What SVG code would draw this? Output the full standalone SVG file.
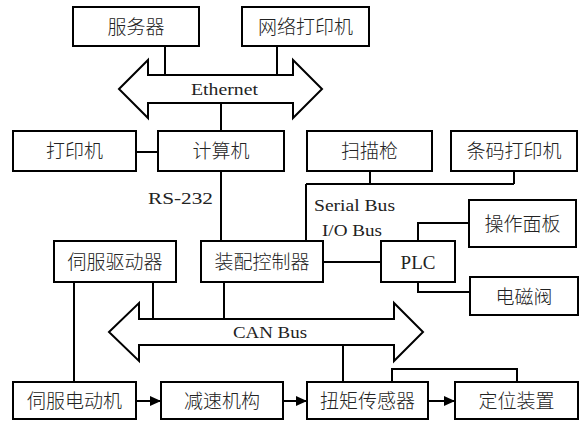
<svg xmlns="http://www.w3.org/2000/svg" width="585" height="421" viewBox="0 0 585 421">
<defs>
<marker id="ah" markerWidth="12" markerHeight="12" refX="11" refY="5" orient="auto" markerUnits="userSpaceOnUse">
<path d="M0,0 L11,5 L0,10 Z" fill="#000"/>
</marker>
<style>
rect.b{fill:#fff;stroke:#000;stroke-width:2}
text.cn{font-family:"Liberation Serif","Noto Sans CJK SC",serif;font-size:19px;font-weight:300;text-anchor:middle;dominant-baseline:central;fill:#222}
text.en{font-family:"Liberation Serif",serif;font-size:17px;fill:#222}
.ln{fill:none;stroke:#000;stroke-width:2}
.bus{fill:#fff;stroke:#000;stroke-width:2;stroke-linejoin:miter}
</style>
</defs>
<rect width="585" height="421" fill="#fff"/>
<g id="buses">
<path class="bus" d="M119,89 L148,60 L148,75 L293,75 L293,60 L322,89 L293,118 L293,103 L148,103 L148,118 Z"/>
<text class="en" x="224.5" y="89" text-anchor="middle" dominant-baseline="central" textLength="67" lengthAdjust="spacingAndGlyphs">Ethernet</text>
<path class="bus" d="M109,332 L139,303 L139,319 L394,319 L394,303 L423,332 L394,361 L394,345 L139,345 L139,361 Z"/>
<text class="en" x="270" y="332" text-anchor="middle" dominant-baseline="central" textLength="74" lengthAdjust="spacingAndGlyphs">CAN Bus</text>
</g>
<g id="connectors">
<path class="ln" d="M165,46 V75 M277,46 V75 M221,103 V131 M136,152 H158 M221,171 V241"/>
<path class="ln" d="M370,171 V184 M306,184 H514 M514,171 V184 M306,184 V241"/>
<path class="ln" d="M323,262 H381 M418,241 V223 H469 M418,282 V292 H470"/>
<path class="ln" d="M74,282 V382 M153,282 V319 M224,282 V319 M343,345 V382 M392,382 V369 H517 V382"/>
<path class="ln" d="M136,401 H161" marker-end="url(#ah)"/>
<path class="ln" d="M283,401 H307" marker-end="url(#ah)"/>
<path class="ln" d="M428,401 H455" marker-end="url(#ah)"/>
<text class="en" x="148" y="198" dominant-baseline="central" textLength="65" lengthAdjust="spacingAndGlyphs">RS-232</text>
<text class="en" x="314" y="205" dominant-baseline="central" textLength="81" lengthAdjust="spacingAndGlyphs">Serial Bus</text>
<text class="en" x="322" y="230" dominant-baseline="central" textLength="60" lengthAdjust="spacingAndGlyphs">I/O Bus</text>
</g>
<g id="n1"><rect class="b" x="73" y="7" width="126" height="39"/><text class="cn" x="136" y="27">服务器</text></g>
<g id="n2"><rect class="b" x="242" y="7" width="127" height="39"/><text class="cn" x="305.5" y="27">网络打印机</text></g>
<g id="n3"><rect class="b" x="13" y="131" width="123" height="40"/><text class="cn" x="74.5" y="151.5">打印机</text></g>
<g id="n4"><rect class="b" x="158" y="131" width="126" height="40"/><text class="cn" x="221" y="151.5">计算机</text></g>
<g id="n5"><rect class="b" x="307" y="131" width="125" height="40"/><text class="cn" x="369.5" y="151.5">扫描枪</text></g>
<g id="n6"><rect class="b" x="451" y="131" width="126" height="40"/><text class="cn" x="514" y="151.5">条码打印机</text></g>
<g id="n7"><rect class="b" x="54" y="241" width="122" height="41"/><text class="cn" x="115" y="262">伺服驱动器</text></g>
<g id="n8"><rect class="b" x="201" y="241" width="122" height="41"/><text class="cn" x="262" y="262">装配控制器</text></g>
<g id="n9"><rect class="b" x="381" y="241" width="74" height="41"/><text class="en" x="418" y="262" text-anchor="middle" dominant-baseline="central" style="font-size:19px">PLC</text></g>
<g id="n10"><rect class="b" x="469" y="200" width="107" height="47"/><text class="cn" x="522.5" y="224">操作面板</text></g>
<g id="n11"><rect class="b" x="470" y="277" width="108" height="38"/><text class="cn" x="524" y="297">电磁阀</text></g>
<g id="n12"><rect class="b" x="13" y="382" width="123" height="37"/><text class="cn" x="74.5" y="401.5">伺服电动机</text></g>
<g id="n13"><rect class="b" x="161" y="382" width="122" height="37"/><text class="cn" x="222" y="401.5">减速机构</text></g>
<g id="n14"><rect class="b" x="307" y="382" width="121" height="37"/><text class="cn" x="367.5" y="401.5">扭矩传感器</text></g>
<g id="n15"><rect class="b" x="455" y="382" width="123" height="37"/><text class="cn" x="516.5" y="401.5">定位装置</text></g>
</svg>
